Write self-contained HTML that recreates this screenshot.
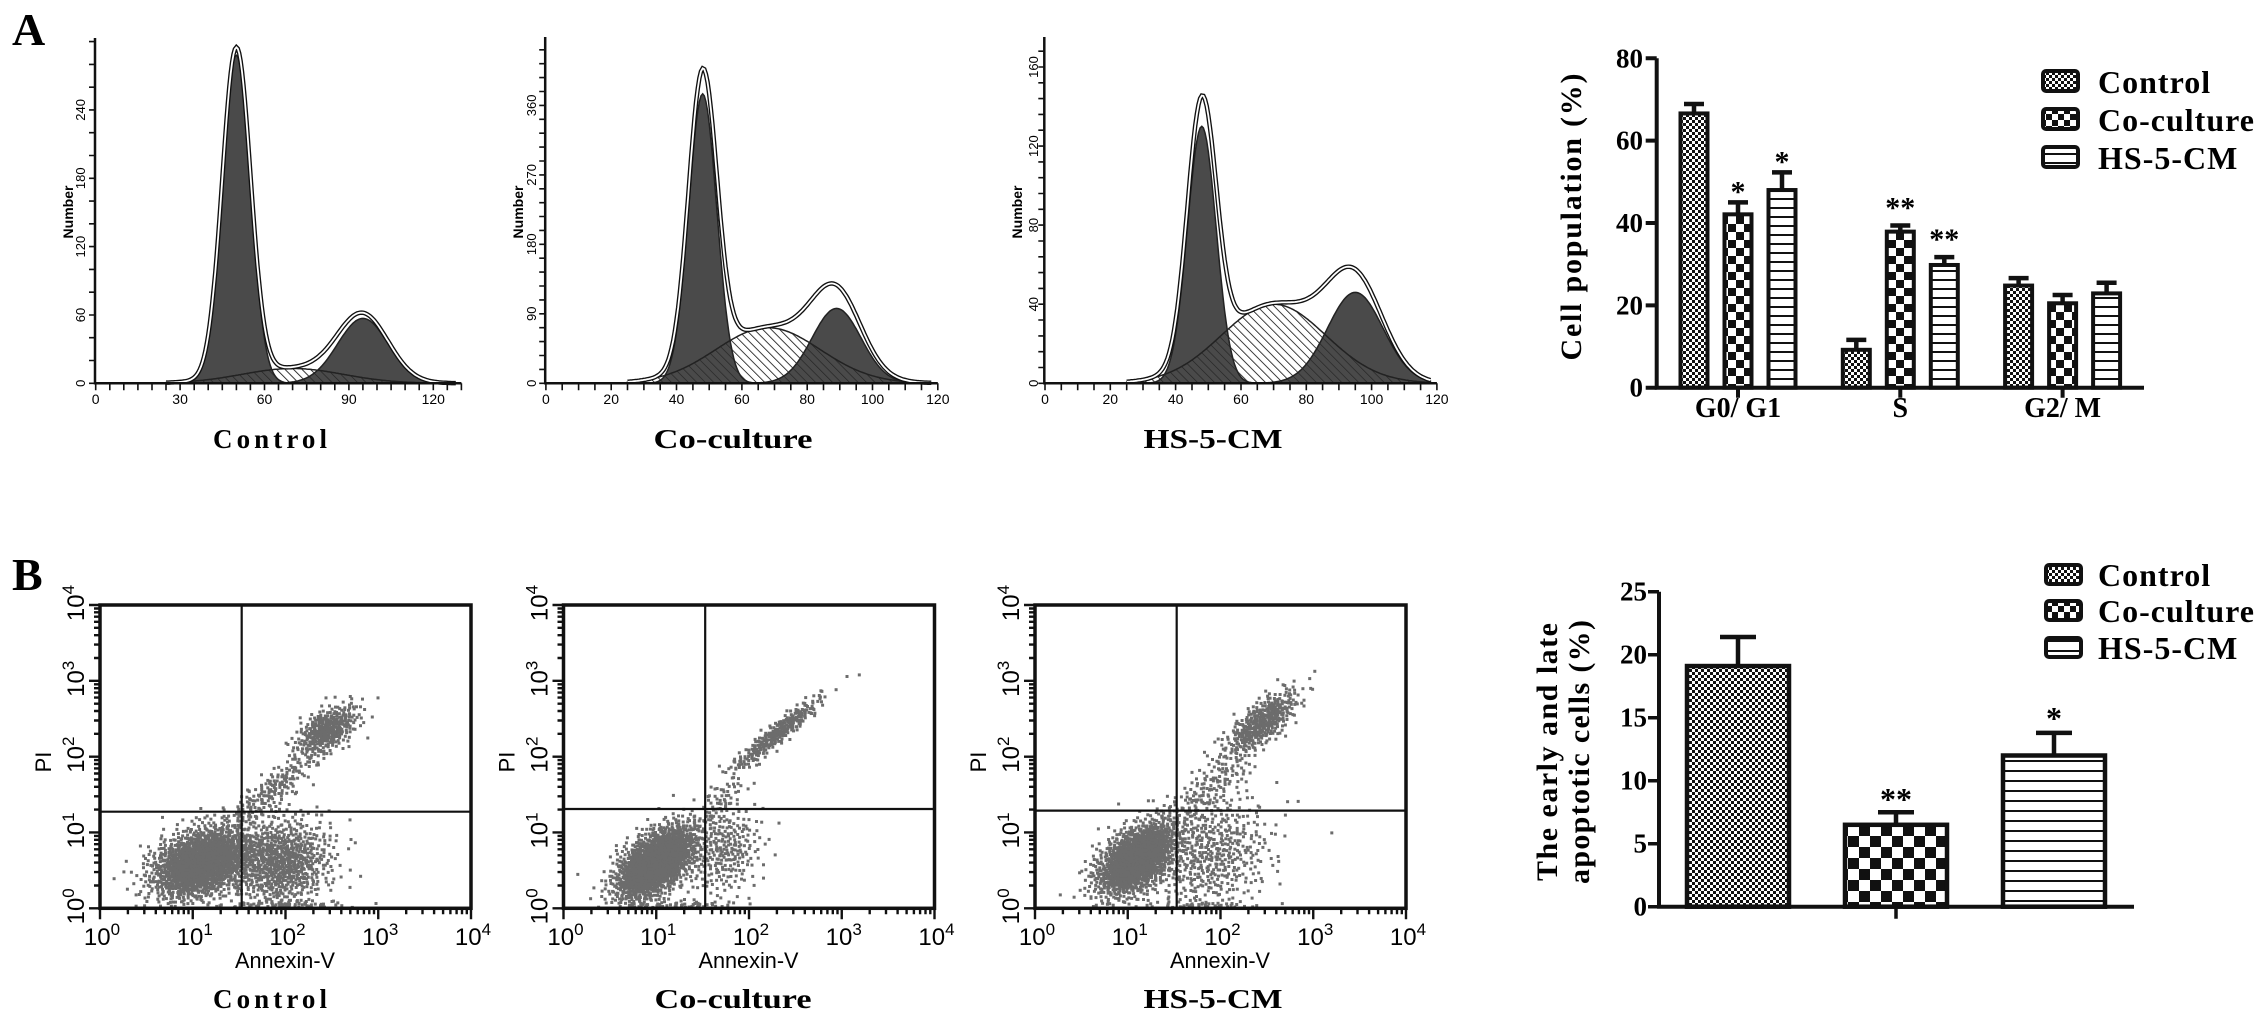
<!DOCTYPE html>
<html><head><meta charset="utf-8"><title>Cell cycle and apoptosis figure</title>
<style>
html,body{margin:0;padding:0;background:#fff;}
svg{display:block;}
.serif{font-family:"Liberation Serif",serif;font-weight:bold;}
.sans{font-family:"Liberation Sans",sans-serif;}
</style></head>
<body>
<svg id="fig" xmlns="http://www.w3.org/2000/svg" width="2268" height="1022" viewBox="0 0 2268 1022">
<defs>
<pattern id="hatch" width="6" height="6" patternUnits="userSpaceOnUse" patternTransform="rotate(-45)"><line x1="0" y1="0" x2="0" y2="6" stroke="#222" stroke-width="1.3"/></pattern>
<pattern id="hatchBg" width="6" height="6" patternUnits="userSpaceOnUse" patternTransform="rotate(-45)"><rect width="6" height="6" fill="#fff"/><line x1="0" y1="0" x2="0" y2="6" stroke="#222" stroke-width="1.3"/></pattern>
<pattern id="pCtrl" width="6" height="6" patternUnits="userSpaceOnUse"><rect width="6" height="6" fill="#fff"/><rect width="3" height="3" fill="#111"/><rect x="3" y="3" width="3" height="3" fill="#111"/></pattern>
<pattern id="pCoA" width="16" height="16" patternUnits="userSpaceOnUse"><rect width="16" height="16" fill="#fff"/><rect width="8" height="8" fill="#111"/><rect x="8" y="8" width="8" height="8" fill="#111"/></pattern>
<pattern id="pCoB" width="22" height="22" patternUnits="userSpaceOnUse"><rect width="22" height="22" fill="#fff"/><rect width="11" height="11" fill="#111"/><rect x="11" y="11" width="11" height="11" fill="#111"/></pattern>
<pattern id="pCoL" width="12" height="12" patternUnits="userSpaceOnUse"><rect width="12" height="12" fill="#fff"/><rect width="6" height="6" fill="#111"/><rect x="6" y="6" width="6" height="6" fill="#111"/></pattern>
<pattern id="pHSA" width="9" height="9" patternUnits="userSpaceOnUse"><rect width="9" height="9" fill="#fff"/><rect width="9" height="2" fill="#111"/></pattern>
<pattern id="pHSB" width="10" height="10" patternUnits="userSpaceOnUse"><rect width="10" height="10" fill="#fff"/><rect width="10" height="2" fill="#111"/></pattern>
</defs>

<text class="serif" x="12" y="45" font-size="46">A</text>
<text class="serif" x="12" y="590" font-size="46">B</text>

<text class="serif" x="270" y="448" font-size="27" text-anchor="middle" textLength="114" lengthAdjust="spacing">Control</text>
<text class="serif" x="733" y="448" font-size="27" text-anchor="middle" textLength="159" lengthAdjust="spacingAndGlyphs">Co-culture</text>
<text class="serif" x="1213" y="448" font-size="27" text-anchor="middle" textLength="139" lengthAdjust="spacingAndGlyphs">HS-5-CM</text>

<text class="serif" x="270" y="1008" font-size="27" text-anchor="middle" textLength="114" lengthAdjust="spacing">Control</text>
<text class="serif" x="733" y="1008" font-size="27" text-anchor="middle" textLength="157" lengthAdjust="spacingAndGlyphs">Co-culture</text>
<text class="serif" x="1213" y="1008" font-size="27" text-anchor="middle" textLength="139" lengthAdjust="spacingAndGlyphs">HS-5-CM</text>

<text class="serif" font-size="30" text-anchor="middle" textLength="287" lengthAdjust="spacing" transform="translate(1581,217) rotate(-90)">Cell population (%)</text>
<text class="serif" font-size="30" text-anchor="middle" textLength="258" lengthAdjust="spacing" transform="translate(1557,752) rotate(-90)">The early and late</text>
<text class="serif" font-size="30" text-anchor="middle" textLength="264" lengthAdjust="spacing" transform="translate(1589,752) rotate(-90)">apoptotic cells (%)</text>

<g>
<rect x="2043" y="71" width="35" height="20" rx="3" fill="url(#pCtrl)" stroke="#111" stroke-width="4"/>
<text class="serif" x="2098" y="93" font-size="32" letter-spacing="1">Control</text>
<rect x="2043" y="109" width="35" height="20" rx="3" fill="url(#pCoL)" stroke="#111" stroke-width="4"/>
<text class="serif" x="2098" y="131" font-size="32" letter-spacing="1">Co-culture</text>
<rect x="2043" y="147" width="35" height="20" rx="3" fill="url(#pHSA)" stroke="#111" stroke-width="4"/>
<text class="serif" x="2098" y="169" font-size="32" letter-spacing="1">HS-5-CM</text>
</g>
<g>
<rect x="2046" y="565" width="35" height="19" rx="3" fill="url(#pCtrl)" stroke="#111" stroke-width="4"/>
<text class="serif" x="2098" y="586" font-size="32" letter-spacing="1">Control</text>
<rect x="2046" y="601" width="35" height="19" rx="3" fill="url(#pCoL)" stroke="#111" stroke-width="4"/>
<text class="serif" x="2098" y="622" font-size="32" letter-spacing="1">Co-culture</text>
<rect x="2046" y="638" width="35" height="19" rx="3" fill="url(#pHSB)" stroke="#111" stroke-width="4"/>
<text class="serif" x="2098" y="659" font-size="32" letter-spacing="1">HS-5-CM</text>
</g>
</svg>

<script>
// ===== Histogram data (DNA content model components) =====
const histNames = ["control", "coculture", "hs5cm"];
const g1Mean = [50, 48, 48];
const g1Sd = [5.0, 4.3, 4.4];
const g1Height = [288, 375, 130];
const sMean = [70, 68, 70];
const sSd = [18, 16, 16];
const sHeight = [13, 72, 40];
const g2Mean = [95, 89, 95];
const g2Sd = [9, 7.5, 8.5];
const g2Height = [57, 97, 46];
const histXTicks = [[0, 30, 60, 90, 120], [0, 20, 40, 60, 80, 100, 120], [0, 20, 40, 60, 80, 100, 120]];
const histYTicks = [[0, 60, 120, 180, 240], [0, 90, 180, 270, 360], [0, 40, 80, 120, 160]];

// ===== Bar chart A data =====
const cycleCategories = ["G0/ G1", "S", "G2/ M"];
const cycleControl = [66.6, 9.2, 24.8];
const cycleCoculture = [42.1, 37.9, 20.5];
const cycleHS = [48.0, 29.8, 22.9];
const cycleControlErr = [2.3, 2.4, 1.8];
const cycleCocultureErr = [2.9, 1.5, 2.0];
const cycleHSErr = [4.3, 1.9, 2.6];
const cycleCocultureSig = ["*", "**", ""];
const cycleHSSig = ["*", "**", ""];
const cycleTicks = [0, 20, 40, 60, 80];

// ===== Bar chart B data =====
const apopGroups = ["Control", "Co-culture", "HS-5-CM"];
const apopValues = [19.1, 6.5, 12.0];
const apopErr = [2.3, 1.0, 1.8];
const apopSig = ["", "**", "*"];
const apopTicks = [0, 5, 10, 15, 20, 25];

// ===== Scatter data: clusters [log10 Annexin, log10 PI, sdX, sdY, corr, count] =====
const scatterNames = ["control", "coculture", "hs5cm"];
const ctrlClusters = [[1.1, 0.6, 0.27, 0.24, 0.35, 1700], [1.95, 0.6, 0.28, 0.3, 0.1, 800], [2.45, 2.35, 0.17, 0.17, 0.55, 350], [1.85, 1.55, 0.28, 0.3, 0.9, 200], [2.0, 0.04, 0.35, 0.03, 0, 70]];
const coClusters = [[1.0, 0.6, 0.22, 0.25, 0.55, 1700], [1.75, 0.75, 0.2, 0.3, 0.2, 250], [2.3, 2.3, 0.25, 0.25, 0.95, 300], [1.7, 1.4, 0.15, 0.2, 0.8, 60], [1.3, 0.03, 0.3, 0.03, 0, 60]];
const hsClusters = [[1.1, 0.65, 0.22, 0.25, 0.5, 1500], [1.9, 0.7, 0.33, 0.4, 0.2, 500], [2.45, 2.45, 0.2, 0.22, 0.75, 400], [1.9, 1.6, 0.25, 0.3, 0.8, 150], [1.8, 0.03, 0.35, 0.03, 0, 50]];
const quadAnnexin = [33.7, 33.7, 33.7];
const quadPI = [18.8, 20.4, 19.4];
const logTicks = [0, 1, 2, 3, 4];

const NS = "http://www.w3.org/2000/svg";
const svg = document.getElementById("fig");
function mk(tag, attrs, parent) {
  const e = document.createElementNS(NS, tag);
  for (const k in attrs) e.setAttribute(k, attrs[k]);
  (parent || svg).appendChild(e);
  return e;
}
function gauss(x, m, s, h) { return h * Math.exp(-((x - m) * (x - m)) / (2 * s * s)); }

// ===== Histograms =====
const histLayout = [
  {x0: 95.7, xs: 2.813, yb: 383.3, ys: 1.139, top: 38, xend: 130, lblX: 80, numX: 68, minorY: 20},
  {x0: 545.9, xs: 3.266, yb: 383.3, ys: 0.772, top: 37, xend: 120, lblX: 531, numX: 518, minorY: 18},
  {x0: 1045, xs: 3.266, yb: 383.3, ys: 1.977, top: 37, xend: 120, lblX: 1033, numX: 1017, minorY: 8}
];
histNames.forEach(function (nm, i) {
  const L = histLayout[i];
  const g = mk("g", {});
  
  
  const X = v => L.x0 + v * L.xs;
  const Y = v => L.yb - v * L.ys;
  function area(fn, a, b) {
    let d = "M" + X(a).toFixed(1) + "," + L.yb;
    for (let x = a; x <= b + 1e-9; x += 0.5) d += " L" + X(x).toFixed(1) + "," + Y(fn(x)).toFixed(1);
    return d + " L" + X(b).toFixed(1) + "," + L.yb + " Z";
  }
  const fS = x => gauss(x, sMean[i], sSd[i], sHeight[i]);
  const fG1 = x => gauss(x, g1Mean[i], g1Sd[i], g1Height[i]);
  const fG2 = x => gauss(x, g2Mean[i], g2Sd[i], g2Height[i]);
  const s1 = mk("path", {d: area(fS, 25, L.xend - 2), fill: "url(#hatchBg)"}, g);
  
  
  const p1 = mk("path", {d: area(fG1, 25, 80), fill: "#4a4a4a"}, g);
  
  
  const p2 = mk("path", {d: area(fG2, 55, L.xend - 2), fill: "#4a4a4a"}, g);
  
  
  const s2 = mk("path", {d: area(fS, 25, L.xend - 2), fill: "url(#hatch)", stroke: "#222", "stroke-width": 1.5}, g);
  
  
  const o1 = mk("path", {d: area(fG1, 25, 80), fill: "none", stroke: "#222", "stroke-width": 1.5}, g);
  
  
  const o2 = mk("path", {d: area(fG2, 55, L.xend - 2), fill: "none", stroke: "#222", "stroke-width": 1.5}, g);
  
  
  let d = "";
  for (let x = 25; x <= L.xend - 2; x += 0.5) {
    const v = fS(x) + fG1(x) + fG2(x);
    d += (d ? " L" : "M") + X(x).toFixed(1) + "," + Y(v).toFixed(1);
  }
  const f1 = mk("path", {d: d, fill: "none", stroke: "#111", "stroke-width": 4.5}, g);
  
  
  const f2 = mk("path", {d: d, fill: "none", stroke: "#fff", "stroke-width": 1.8}, g);
  
  
  const ax = mk("path", {d: "M" + (L.x0 - 0.7) + "," + L.top + " V" + L.yb + " H" + X(L.xend), fill: "none", stroke: "#111", "stroke-width": 2.5}, g);
  
  
  let td = "";
  for (let v = 0; v <= L.xend + 1e-9; v += 5) td += "M" + X(v).toFixed(1) + "," + L.yb + " v7 ";
  const yMax = (L.yb - L.top) / L.ys;
  for (let v = 0; v <= yMax; v += L.minorY) td += "M" + (L.x0 - 0.7) + "," + Y(v).toFixed(1) + " h-6 ";
  const tk = mk("path", {d: td, stroke: "#111", "stroke-width": 1.6, fill: "none"}, g);
  
  
  histXTicks[i].forEach(function (v) {
    const t = mk("text", {x: X(v), y: 404, "font-size": 14, "text-anchor": "middle", class: "sans"}, g);
    t.textContent = v;
    
    
  });
  histYTicks[i].forEach(function (v) {
    const t = mk("text", {transform: "translate(" + (L.lblX + 5) + "," + Y(v).toFixed(1) + ") rotate(-90)", "font-size": 13, "text-anchor": "middle", class: "sans"}, g);
    t.textContent = v;
    
    
  });
  const nt = mk("text", {transform: "translate(" + (L.numX + 5) + ",212) rotate(-90)", "font-size": 14, "font-weight": "bold", "text-anchor": "middle", class: "sans"}, g);
  nt.textContent = "Number";
  
  
});

// ===== Bar chart A =====
(function () {
  const x0 = 1656.7, y0 = 387.7, ys = 4.118, xEnd = 2144;
  const Y = v => y0 - v * ys;
  const groupX = i => 1738 + i * 162.3;
  const series = [cycleControl, cycleCoculture, cycleHS];
  const errs = [cycleControlErr, cycleCocultureErr, cycleHSErr];
  const sigs = [null, cycleCocultureSig, cycleHSSig];
  const fills = ["url(#pCtrl)", "url(#pCoA)", "url(#pHSA)"];
  const sNames = ["control", "coculture", "hs5cm"];
  const g = mk("g", {});
  
  
  cycleCategories.forEach(function (cat, ci) {
    series.forEach(function (arr, si) {
      const cx = groupX(ci) + (si - 1) * 44;
      const v = arr[ci], e = errs[si][ci];
      const eb = mk("path", {d: "M" + cx + "," + Y(v) + " V" + Y(v + e) + " M" + (cx - 10) + "," + Y(v + e) + " H" + (cx + 10), stroke: "#111", "stroke-width": 4.5, fill: "none"}, g);
      
      
      const r = mk("rect", {x: cx - 13.5, y: Y(v), width: 27, height: y0 - Y(v), fill: fills[si], stroke: "#111", "stroke-width": 4}, g);
      
      
      if (sigs[si] && sigs[si][ci]) {
        const t = mk("text", {x: cx, y: Y(v + e) - (sigs[si][ci].length > 1 ? 8 : 1), "font-size": 30, "text-anchor": "middle", class: "serif"}, g);
        t.textContent = sigs[si][ci];
        
        
      }
    });
    const lt = mk("text", {x: groupX(ci), y: 417, "font-size": 28, "text-anchor": "middle", class: "serif"}, g);
    lt.textContent = cat;
    
    
  });
  let td = "M" + x0 + "," + Y(80) + " V" + y0 + " H" + xEnd;
  const ax = mk("path", {d: td, stroke: "#111", "stroke-width": 4, fill: "none"}, g);
  
  
  let tks = "";
  cycleTicks.forEach(v => tks += "M" + x0 + "," + Y(v) + " h-11 ");
  cycleCategories.forEach((c, ci) => tks += "M" + groupX(ci) + "," + y0 + " v10 ");
  const tk = mk("path", {d: tks, stroke: "#111", "stroke-width": 4, fill: "none"}, g);
  
  
  cycleTicks.forEach(function (v) {
    const t = mk("text", {x: 1643, y: Y(v) + 9, "font-size": 27, "text-anchor": "end", class: "serif"}, g);
    t.textContent = v;
    
    
  });
})();

// ===== Bar chart B =====
(function () {
  const x0 = 1659, y0 = 906.7, ys = 12.6, xEnd = 2134;
  const Y = v => y0 - v * ys;
  const groupX = i => 1738 + i * 158;
  const fills = ["url(#pCtrl)", "url(#pCoB)", "url(#pHSB)"];
  const g = mk("g", {});
  
  
  apopGroups.forEach(function (nm, i) {
    const cx = groupX(i), v = apopValues[i], e = apopErr[i];
    const eb = mk("path", {d: "M" + cx + "," + Y(v) + " V" + Y(v + e) + " M" + (cx - 18) + "," + Y(v + e) + " H" + (cx + 18), stroke: "#111", "stroke-width": 4.5, fill: "none"}, g);
    
    
    const r = mk("rect", {x: cx - 51, y: Y(v), width: 102, height: y0 - Y(v), fill: fills[i], stroke: "#111", "stroke-width": 4.5}, g);
    
    
    if (apopSig[i]) {
      const t = mk("text", {x: cx, y: Y(v + e) - (apopSig[i].length > 1 ? 2 : 4), "font-size": 32, "text-anchor": "middle", class: "serif"}, g);
      t.textContent = apopSig[i];
      
      
    }
  });
  const ax = mk("path", {d: "M" + x0 + "," + Y(25) + " V" + y0 + " H" + xEnd, stroke: "#111", "stroke-width": 4, fill: "none"}, g);
  
  
  let tks = "";
  apopTicks.forEach(v => tks += "M" + x0 + "," + Y(v) + " h-11 ");
  tks += "M" + groupX(1) + "," + y0 + " v12";
  const tk = mk("path", {d: tks, stroke: "#111", "stroke-width": 3.5, fill: "none"}, g);
  
  
  apopTicks.forEach(function (v) {
    const t = mk("text", {x: 1647, y: Y(v) + 9, "font-size": 27, "text-anchor": "end", class: "serif"}, g);
    t.textContent = v;
    
    
  });
})();

// ===== Scatter plots =====
function halton(i, b) { let f = 1, r = 0; while (i > 0) { f /= b; r += f * (i % b); i = Math.floor(i / b); } return r; }
const scatterLayout = [{left: 100}, {left: 563.5}, {left: 1035}];
const scatterClusters = [ctrlClusters, coClusters, hsClusters];
scatterNames.forEach(function (nm, pi) {
  const left = scatterLayout[pi].left, top = 605, bottom = 908.3, w = 371;
  const dx = w / 4, dy = (bottom - top) / 4;
  const X = lv => left + lv * dx;
  const Y = lv => bottom - lv * dy;
  const g = mk("g", {});
  
  
  const dots = mk("g", {fill: "#6c6c6c"}, g);
  
  
  scatterClusters[pi].forEach(function (c, ci) {
    for (let k = 0; k < c[5]; k++) {
      const idx = k + 1 + ci * 7919 + pi * 3001;
      const u1 = halton(idx, 2), u2 = halton(idx, 3);
      const rr = Math.sqrt(-2 * Math.log(u1));
      const z1 = rr * Math.cos(2 * Math.PI * u2), z2 = rr * Math.sin(2 * Math.PI * u2);
      const lx = c[0] + c[2] * z1;
      const ly = c[1] + c[3] * (c[4] * z1 + Math.sqrt(1 - c[4] * c[4]) * z2);
      if (lx < 0.02 || lx > 3.98 || ly < 0.01 || ly > 3.98) continue;
      const p = mk("rect", {x: (X(lx) - 1.5).toFixed(1), y: (Y(ly) - 1.5).toFixed(1), width: 3, height: 3}, dots);
      
      
    }
  });
  const fr = mk("rect", {x: left, y: top, width: w, height: bottom - top, fill: "none", stroke: "#111", "stroke-width": 3.5}, g);
  
  
  const qx = X(Math.log10(quadAnnexin[pi])), qy = Y(Math.log10(quadPI[pi]));
  const ql = mk("path", {d: "M" + qx + "," + top + " V" + bottom + " M" + left + "," + qy + " H" + (left + w), stroke: "#111", "stroke-width": 2.2, fill: "none"}, g);
  
  
  let td = "";
  for (let dec = 0; dec < 4; dec++) {
    for (let m = 2; m <= 9; m++) {
      const lv = dec + Math.log10(m);
      td += "M" + X(lv).toFixed(1) + "," + bottom + " v6 M" + left + "," + Y(lv).toFixed(1) + " h-6 ";
    }
  }
  logTicks.forEach(lv => td += "M" + X(lv) + "," + bottom + " v11 M" + left + "," + Y(lv) + " h-11 ");
  const tk = mk("path", {d: td, stroke: "#111", "stroke-width": 2.4, fill: "none"}, g);
  
  
  logTicks.forEach(function (lv) {
    const t = mk("text", {x: X(lv) + 2, y: 945, "font-size": 24, "text-anchor": "middle", class: "sans"}, g);
    
    
    const a = mk("tspan", {}, t); a.textContent = "10";
    const b = mk("tspan", {dy: -10, "font-size": 17}, t); b.textContent = lv;
    const t2 = mk("text", {transform: "translate(" + (left - 16) + "," + (Y(lv) - 2) + ") rotate(-90)", "font-size": 24, "text-anchor": "middle", class: "sans"}, g);
    
    
    const c = mk("tspan", {}, t2); c.textContent = "10";
    const d2 = mk("tspan", {dy: -10, "font-size": 17}, t2); d2.textContent = lv;
  });
  const xt = mk("text", {x: left + 185, y: 968, "font-size": 22, "text-anchor": "middle", textLength: 100, lengthAdjust: "spacingAndGlyphs", class: "sans"}, g);
  xt.textContent = "Annexin-V";
  
  
  const yt = mk("text", {transform: "translate(" + (left - 49) + ",762) rotate(-90)", "font-size": 22, "text-anchor": "middle", class: "sans"}, g);
  yt.textContent = "PI";
  
  
});
</script>
</body></html>
